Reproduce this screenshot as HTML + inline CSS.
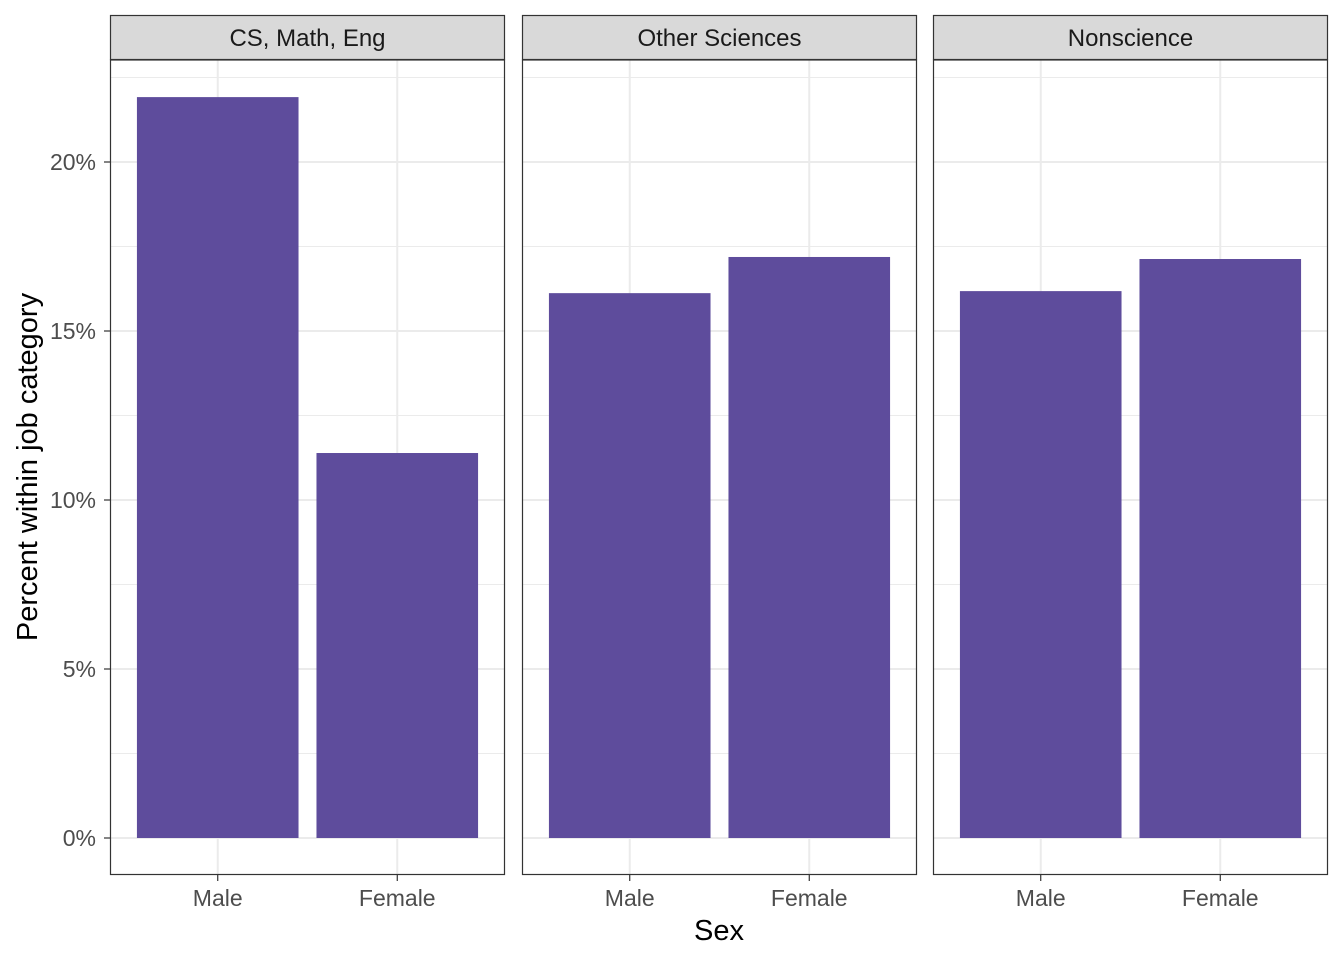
<!DOCTYPE html>
<html><head><meta charset="utf-8"><style>
body{margin:0;background:#fff;}
svg text{font-family:"Liberation Sans",Arial,sans-serif;}
</style></head><body>
<svg id="chart" width="1344" height="960" xmlns="http://www.w3.org/2000/svg"></svg>
<script>
const panels = ["CS, Math, Eng", "Other Sciences", "Nonscience"];
const categories = ["Male", "Female"];
const maleValues = [21.92, 16.12, 16.18];
const femaleValues = [11.39, 17.19, 17.13];
const yTicks = [0, 5, 10, 15, 20];
const yTickLabels = ["0%", "5%", "10%", "15%", "20%"];
const yMinor = [2.5, 7.5, 12.5, 17.5, 22.5];

const NS = "http://www.w3.org/2000/svg";
const svg = document.getElementById("chart");
function mk(tag, attrs, parent) {
  const e = document.createElementNS(NS, tag);
  for (const k in attrs) e.setAttribute(k, attrs[k]);
  (parent || svg).appendChild(e);
  return e;
}
const panelLefts = [110, 522, 933];
const panelW = 395, plotTop = 60, plotBottom = 875;
const y0 = 838, pxPer = 33.8;
const yScale = v => y0 - v * pxPer;
const xScale = (i, L) => L + (i + 1 - 0.4) * (panelW / 2.2);
const barW = 0.9 * panelW / 2.2;

panels.forEach((name, p) => {
  const L = panelLefts[p];
  const g = mk("g", {});
  
  
  mk("rect", {x: L, y: plotTop, width: panelW, height: plotBottom - plotTop, fill: "#fff"}, g);
  yMinor.forEach(v => mk("line", {x1: L, x2: L + panelW, y1: yScale(v), y2: yScale(v), stroke: "#ebebeb", "stroke-width": 1}, g));
  yTicks.forEach(v => mk("line", {x1: L, x2: L + panelW, y1: yScale(v), y2: yScale(v), stroke: "#ebebeb", "stroke-width": 2}, g));
  categories.forEach((c, i) => mk("line", {x1: xScale(i, L), x2: xScale(i, L), y1: plotTop, y2: plotBottom, stroke: "#ebebeb", "stroke-width": 2}, g));
  const vals = [maleValues[p], femaleValues[p]];
  vals.forEach((v, i) => {
    const r = mk("rect", {x: xScale(i, L) - barW / 2, y: yScale(v), width: barW, height: y0 - yScale(v), fill: "#5e4c9c"}, g);
    
    
  });
  mk("rect", {x: L + 0.5, y: plotTop, width: panelW - 1, height: plotBottom - plotTop - 0.5, fill: "none", stroke: "#333", "stroke-width": 1.2}, g);
  const s = mk("rect", {x: L + 0.5, y: 15.5, width: panelW - 1, height: 44, fill: "#d9d9d9", stroke: "#333", "stroke-width": 1.2}, g);
  
  
  const st = mk("text", {x: L + panelW / 2, y: 46, "text-anchor": "middle", "font-size": 24, fill: "#1a1a1a"}, g);
  st.textContent = name;
  
  
  categories.forEach((c, i) => {
    const x = xScale(i, L);
    mk("line", {x1: x, x2: x, y1: plotBottom, y2: plotBottom + 6, stroke: "#333", "stroke-width": 1.2}, g);
    const t = mk("text", {x: x, y: 906, "text-anchor": "middle", "font-size": 23, fill: "#4d4d4d"}, g);
    t.textContent = c;
    
    
  });
});
yTicks.forEach((v, i) => {
  mk("line", {x1: 104, x2: 110, y1: yScale(v), y2: yScale(v), stroke: "#333", "stroke-width": 1.2});
  const t = mk("text", {x: 96, y: yScale(v) + 8, "text-anchor": "end", "font-size": 23, fill: "#4d4d4d"});
  t.textContent = yTickLabels[i];
  
  
});
const xt = mk("text", {x: 719, y: 940, "text-anchor": "middle", "font-size": 29, fill: "#000"});
xt.textContent = "Sex";


const yt = mk("text", {x: 0, y: 0, "text-anchor": "middle", "font-size": 29, fill: "#000", transform: "translate(37,467) rotate(-90)"});
yt.textContent = "Percent within job category";


</script>
</body></html>
